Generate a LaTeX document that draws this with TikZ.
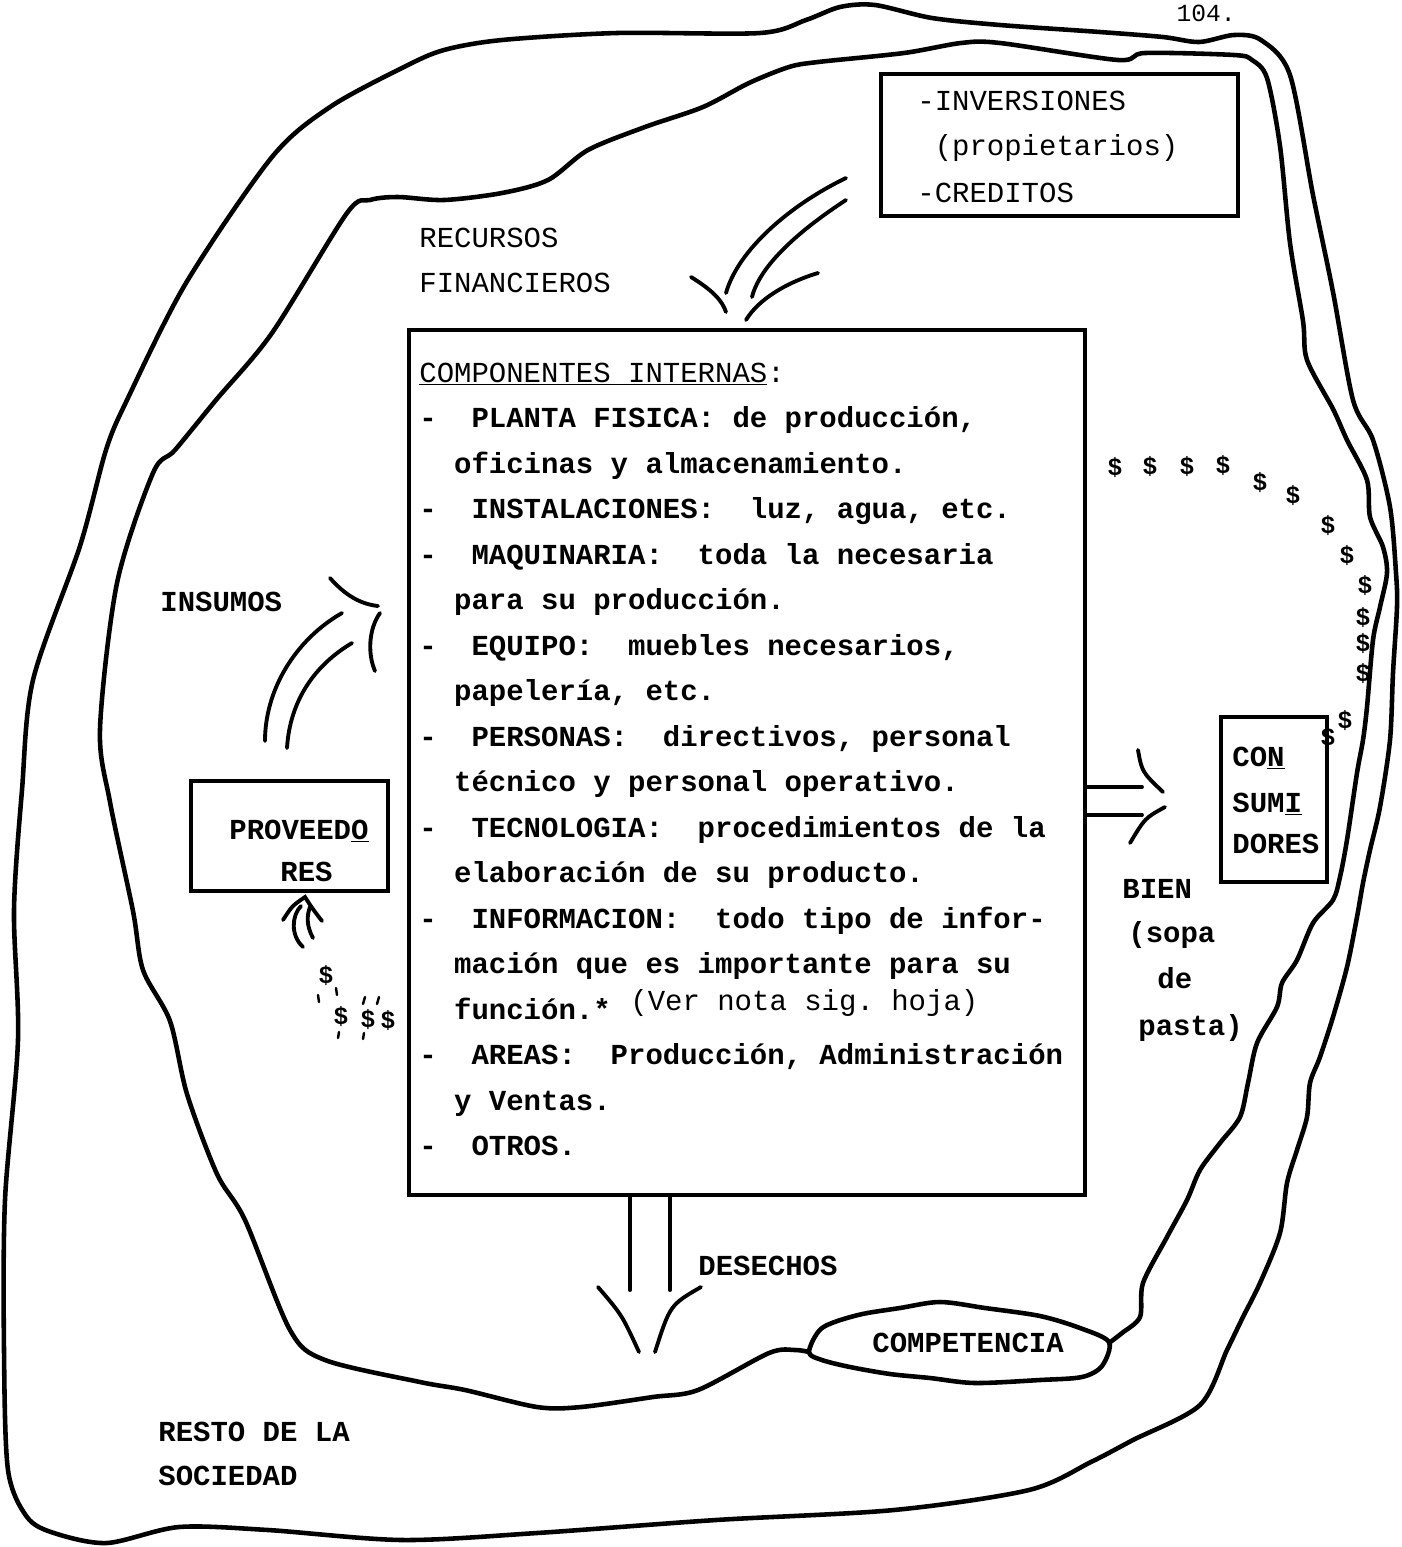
\documentclass[tikz,border=0pt]{standalone}
\usepackage{fontspec}
\setmainfont{Liberation Mono}
\frenchspacing

\begin{document}
\begin{tikzpicture}[x=0.2mm,y=-0.2mm,
  blob/.style={line width=2.6pt, line join=round, line cap=round},
  box/.style={draw, rectangle, line width=2.6pt, inner sep=0pt},
  hand/.style={line width=2.2pt, line cap=round},
  typ/.style={font=\fontsize{16.5}{20}\selectfont, inner sep=0pt, anchor=base west},
  lbl/.style={font=\fontsize{16.5}{20}\selectfont\bfseries, inner sep=0pt, anchor=base west},
  dol/.style={font=\fontsize{14}{16}\selectfont\bfseries, inner sep=0pt}]

\useasboundingbox (0,0) rectangle (1402,1547);

% resto de la sociedad
\draw[blob] plot[smooth cycle, tension=0.5] coordinates {(8,1470) (4,1350) (5,1200) (18,1040) (14,910) (22,790) (33,680) (80,546) (106,450) (127,400) (186,283) (272,157) (330,107) (404,67) (444,50) (502,40) (617,33) (760,33) (806,20) (840,7) (875,5) (932,18) (1000,25) (1100,32) (1163,37) (1199,42) (1234,35) (1261,40) (1290,75) (1313,195) (1333,292) (1353,400) (1373,440) (1390,507) (1396,573) (1397,607) (1393,673) (1390,740) (1380,807) (1370,850) (1363,883) (1357,917) (1347,967) (1333,1017) (1320,1057) (1310,1083) (1307,1117) (1297,1150) (1287,1183) (1280,1233) (1260,1283) (1243,1317) (1227,1350) (1200,1405) (1133,1440) (1091,1462) (1029,1490) (894,1510) (716,1520) (537,1533) (402,1540) (268,1530) (179,1527) (107,1543) (54,1533) (27,1517)};

% empresa
\draw[blob] plot[smooth, tension=0.5] coordinates {(1109,1343) (1122,1333) (1140,1317) (1143,1283) (1167,1237) (1187,1200) (1200,1170) (1220,1143) (1240,1117) (1248,1083) (1257,1043) (1277,1007) (1282,983) (1297,960) (1313,923) (1333,900) (1340,877) (1347,840) (1357,773) (1363,740) (1367,707) (1373,640) (1380,607) (1387,573) (1383,547) (1370,517) (1367,480) (1347,440) (1333,409) (1307,360) (1303,321) (1290,243) (1280,146) (1267,78) (1252,60) (1234,55) (1145,53) (1118,60) (1000,43) (961,43) (904,53) (818,62) (789,67) (749,83) (703,107) (645,127) (588,150) (548,180) (502,193) (444,200) (398,197) (370,200) (347,213) (272,333) (216,400) (175,450) (153,473) (117,583) (100,729) (110,802) (133,911) (143,970) (170,1021) (187,1094) (217,1174) (245,1220) (290,1330) (325,1360) (420,1382) (465,1390) (537,1407) (581,1407) (653,1397) (698,1390) (769,1353) (795,1350) (809,1352)};

% competencia
\draw[blob] plot[smooth cycle, tension=0.5] coordinates {(809,1352) (822,1328) (858,1315) (900,1308) (940,1302) (985,1308) (1040,1316) (1080,1328) (1109,1342) (1102,1366) (1082,1377) (1040,1380) (975,1383) (930,1378) (890,1374) (850,1367) (822,1360)};
\node[lbl] (compet) at (872,1352) {COMPETENCIA};

\node[font=\fontsize{14}{16}\selectfont, inner sep=0pt, anchor=base east] (pag) at (1236,21) {104.};

% boxes
\node[box, minimum width=135.2mm, minimum height=173mm] (comp) at (747,762.5) {};
\node[box, minimum width=71.4mm, minimum height=28.4mm] (fin) at (1059.5,145) {};
\node[box, minimum width=39.4mm, minimum height=22mm] (prov) at (289.5,836) {};
\node[box, minimum width=21.2mm, minimum height=33mm] (cons) at (1274,799.5) {};

\node[typ] (inv) at (917,110) {-INVERSIONES};
\node[typ] (prop) at (917,155) {~(propietarios)};
\node[typ] (cred) at (917,202) {-CREDITOS};

\node[typ] (recur) at (419,247) {RECURSOS};
\node[typ] (finan) at (419,292) {FINANCIEROS};

\node[typ] (l0) at (419,382) {\underline{COMPONENTES INTERNAS}:};
\node[lbl] (l1) at (419,427.5) {-~~PLANTA FISICA: de producción,};
\node[lbl] (l2) at (419,473) {~~oficinas y almacenamiento.};
\node[lbl] (l3) at (419,518.5) {-~~INSTALACIONES:~~luz, agua, etc.};
\node[lbl] (l4) at (419,564) {-~~MAQUINARIA:~~toda la necesaria};
\node[lbl] (l5) at (419,609.5) {~~para su producción.};
\node[lbl] (l6) at (419,655) {-~~EQUIPO:~~muebles necesarios,};
\node[lbl] (l7) at (419,700.5) {~~papelería, etc.};
\node[lbl] (l8) at (419,746) {-~~PERSONAS:~~directivos, personal};
\node[lbl] (l9) at (419,791.5) {~~técnico y personal operativo.};
\node[lbl] (l10) at (419,837) {-~~TECNOLOGIA:~~procedimientos de la};
\node[lbl] (l11) at (419,882.5) {~~elaboración de su producto.};
\node[lbl] (l12) at (419,928) {-~~INFORMACION:~~todo tipo de infor-};
\node[lbl] (l13) at (419,973.5) {~~mación que es importante para su};
\node[lbl] (l14) at (419,1019) {~~función.*};
\node[typ] (nota) at (630,1010) {(Ver nota sig. hoja)};
\node[lbl] (l15) at (419,1064.5) {-~~AREAS:~~Producción, Administración};
\node[lbl] (l16) at (419,1110) {~~y Ventas.};
\node[lbl] (l17) at (419,1155.5) {-~~OTROS.};

\node[lbl] (insumos) at (160,611) {INSUMOS};
\node[lbl] (prov1) at (229,839) {PROVEED\underline{O}};
\node[lbl] (prov2) at (280,881) {RES};
\node[lbl] (cons1) at (1232,766) {CO\underline{N}};
\node[lbl] (cons2) at (1232,812) {SUM\underline{I}};
\node[lbl] (cons3) at (1232,853) {DORES};
\node[lbl] (bien1) at (1122,898) {BIEN};
\node[lbl] (bien2) at (1128,942) {(sopa};
\node[lbl] (bien3) at (1157,988) {de};
\node[lbl] (bien4) at (1138,1035) {pasta)};
\node[lbl] (desech) at (698,1275) {DESECHOS};
\node[lbl] (resto1) at (158,1441) {RESTO DE LA};
\node[lbl] (resto2) at (158,1485) {SOCIEDAD};

% recursos financieros
\draw[hand] (846,178) .. controls (790,205) and (738,250) .. (726,293);
\draw[hand] (846,200) .. controls (800,230) and (760,265) .. (752,297);
\draw[hand] (691,277) .. controls (712,290) and (722,300) .. (726,312);
\draw[hand] (818,273) .. controls (785,283) and (758,300) .. (746,320);

% insumos
\draw[hand] (265,741) .. controls (265,690) and (295,640) .. (342,613);
\draw[hand] (287,748) .. controls (290,700) and (315,665) .. (352,643);
\draw[hand] (330,578) .. controls (345,595) and (360,604) .. (378,606);
\draw[hand] (380,613) .. controls (368,630) and (368,655) .. (375,671);

% pago a proveedores
\draw[hand] (283,920) .. controls (292,906) .. (305,897) .. controls (312,908) .. (322,921);
\draw[hand] (303,947) .. controls (290,935) and (292,915) .. (301,906);
\draw[hand] (313,938) .. controls (306,925) and (307,915) .. (310,907);
\node[dol] (p1) at (326,975) {\$};
\node[dol] (p2) at (341,1016) {\$};
\node[dol] (p3) at (368,1019) {\$};
\node[dol] (p4) at (388,1020) {\$};
\draw[hand, line width=1.4pt] (318,995) -- (319,1002);
\draw[hand, line width=1.4pt] (336,988) -- (337,995);
\draw[hand, line width=1.4pt] (339,1032) -- (338,1038);
\draw[hand, line width=1.4pt] (363,1004) -- (365,997);
\draw[hand, line width=1.4pt] (377,1004) -- (379,997);
\draw[hand, line width=1.4pt] (364,1033) -- (363,1039);

% bien
\draw[hand] (comp.east |- 0,787) -- (1142,787);
\draw[hand] (comp.east |- 0,815) -- (1142,815);
\draw[hand] (1138,750) .. controls (1142,772) .. (1163,792);
\draw[hand] (1165,807) .. controls (1145,818) .. (1130,843);

% desechos
\draw[hand] (comp.south -| 630,0) -- (630,1290);
\draw[hand] (comp.south -| 670,0) -- (670,1290);
\draw[hand] (598,1287) .. controls (622,1315) .. (639,1352);
\draw[hand] (701,1287) .. controls (670,1305) .. (655,1352);

% pago de consumidores
\node[dol] (d1) at (1115,467) {\$};
\node[dol] (d2) at (1150,466) {\$};
\node[dol] (d3) at (1187,466) {\$};
\node[dol] (d4) at (1223,465) {\$};
\node[dol] (d5) at (1260,482) {\$};
\node[dol] (d6) at (1293,495) {\$};
\node[dol] (d7) at (1328,525) {\$};
\node[dol] (d8) at (1347,555) {\$};
\node[dol] (d9) at (1365,585) {\$};
\node[dol] (d10) at (1363,617) {\$};
\node[dol] (d11) at (1363,643) {\$};
\node[dol] (d12) at (1363,673) {\$};
\node[dol] (d13) at (1345,720) {\$};
\node[dol] (d14) at (1328,737) {\$};

\end{tikzpicture}
\end{document}
